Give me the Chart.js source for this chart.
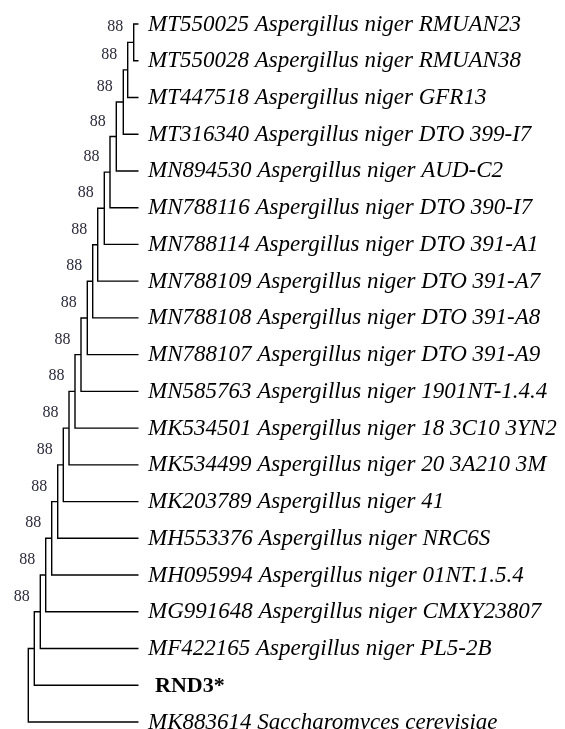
<!DOCTYPE html>
<html>
<head>
<meta charset="utf-8">
<script src="https://cdn.jsdelivr.net/npm/chart.js@4/dist/chart.umd.min.js"></script>
<style>
  html,body{margin:0;padding:0;background:#fff;}
  #wrap{width:565px;height:729px;}
</style>
</head>
<body>
<div id="wrap"><canvas id="c" width="565" height="729"></canvas></div>
<script>
// ---- Data ----
const leafNames = [
  "MT550025 Aspergillus niger RMUAN23",
  "MT550028 Aspergillus niger RMUAN38",
  "MT447518 Aspergillus niger GFR13",
  "MT316340 Aspergillus niger DTO 399-I7",
  "MN894530 Aspergillus niger AUD-C2",
  "MN788116 Aspergillus niger DTO 390-I7",
  "MN788114 Aspergillus niger DTO 391-A1",
  "MN788109 Aspergillus niger DTO 391-A7",
  "MN788108 Aspergillus niger DTO 391-A8",
  "MN788107 Aspergillus niger DTO 391-A9",
  "MN585763 Aspergillus niger 1901NT-1.4.4",
  "MK534501 Aspergillus niger 18 3C10 3YN2",
  "MK534499 Aspergillus niger 20 3A210 3M",
  "MK203789 Aspergillus niger 41",
  "MH553376 Aspergillus niger NRC6S",
  "MH095994 Aspergillus niger 01NT.1.5.4",
  "MG991648 Aspergillus niger CMXY23807",
  "MF422165 Aspergillus niger PL5-2B",
  "RND3*",
  "MK883614 Saccharomyces cerevisiae"
];
const studyIsolate = "RND3*";
// tip depth and internal node depths (ladder tree: node k joins node k-1 with leaf k+1)
const tipDepth = 138.5;
const nodeDepth = [133.7, 127.7, 123.3, 116.3, 110.0, 104.3, 97.7, 92.7, 87.3, 81.0,
                   75.0, 69.0, 63.3, 57.7, 51.7, 45.7, 40.3, 34.3, 28.3];
const bootstrap = [88, 88, 88, 88, 88, 88, 88, 88, 88, 88, 88, 88, 88, 88, 88, 88, 88, null, null];

// ---- Build tree geometry from data ----
const nodes = [];
for (let k = 0; k < nodeDepth.length; k++) {
  let a, b;
  if (k === 0) {
    a = {x: tipDepth, y: 0};
    b = {x: tipDepth, y: 1};
  } else {
    a = {x: nodes[k-1].x, y: nodes[k-1].y};
    b = {x: tipDepth, y: k + 1};
  }
  nodes.push({x: nodeDepth[k], y: (a.y + b.y) / 2, a, b, boot: bootstrap[k]});
}

const datasets = nodes.map(n => ({
  data: [
    {x: n.a.x, y: n.a.y},
    {x: n.x, y: n.a.y},
    {x: n.x, y: n.b.y},
    {x: n.b.x, y: n.b.y}
  ],
  showLine: true,
  borderColor: '#000',
  borderWidth: 1.4,
  pointRadius: 0,
  pointHoverRadius: 0,
  fill: false,
  tension: 0
}));

const labelPlugin = {
  id: 'treeLabels',
  afterDatasetsDraw(chart) {
    const {ctx, scales} = chart;
    const xs = scales.x, ys = scales.y;
    ctx.save();
    // leaf labels
    leafNames.forEach((name, i) => {
      const py = ys.getPixelForValue(i);
      const px = xs.getPixelForValue(tipDepth);
      ctx.fillStyle = '#000';
      ctx.textBaseline = 'alphabetic';
      ctx.textAlign = 'left';
      if (name === studyIsolate) {
        ctx.font = "bold 22px 'Liberation Serif', 'Times New Roman', serif";
        ctx.fillText(name, px + 16.5, py + 7);
      } else {
        ctx.font = "italic 23px 'Liberation Serif', 'Times New Roman', serif";
        ctx.fillText(name, px + 9.5, py + 6.5);
      }
    });
    // bootstrap labels
    ctx.font = "16px 'Liberation Serif', 'Times New Roman', serif";
    ctx.fillStyle = '#2a2a3a';
    ctx.textAlign = 'right';
    ctx.textBaseline = 'alphabetic';
    nodes.forEach(n => {
      if (n.boot == null) return;
      const px = xs.getPixelForValue(n.x);
      const py = ys.getPixelForValue(n.y);
      ctx.fillText(String(n.boot), px - 10.5, py - 11);
    });
    ctx.restore();
  }
};

const rowStep = (722 - 24) / (leafNames.length - 1);

new Chart(document.getElementById('c'), {
  type: 'scatter',
  data: {datasets},
  options: {
    responsive: false,
    animation: false,
    events: [],
    layout: {padding: 0},
    plugins: {legend: {display: false}, tooltip: {enabled: false}},
    scales: {
      x: {type: 'linear', min: 0, max: 565, display: false},
      y: {type: 'linear', reverse: true, min: -24 / rowStep, max: (leafNames.length - 1) + 7 / rowStep, display: false}
    }
  },
  plugins: [labelPlugin]
});
</script>
</body>
</html>
